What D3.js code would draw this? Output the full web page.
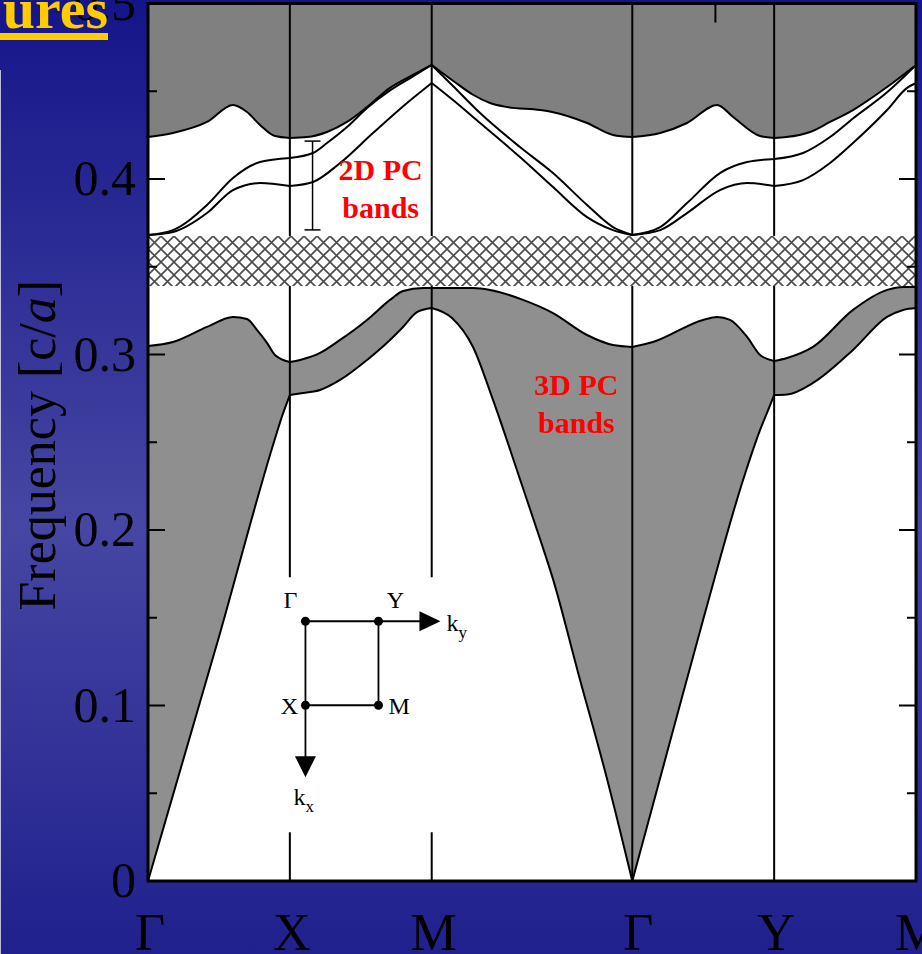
<!DOCTYPE html>
<html>
<head>
<meta charset="utf-8">
<script src="https://cdn.jsdelivr.net/npm/d3@7"></script>
<style>
  html, body { margin: 0; padding: 0; background: #1e1e8c; }
  svg { display: block; }
</style>
</head>
<body>
<svg id="chart" width="922" height="954"></svg>
<script>
"use strict";

// high symmetry points along the path, in units of 2pi/a
const symLabels = ["Γ", "X", "M", "Γ", "Y", "M"];
const symPoints = [0, 1, 2, 3.414, 4.414, 5.414];

const yTicks = [0, 0.1, 0.2, 0.3, 0.4, 0.5];
const yMinorTicks = [0.05, 0.15, 0.25, 0.35, 0.45];

// [k, frequency]
const upperEdge = [
    [0, 0.4239], [0.176, 0.4262], [0.416, 0.4325], [0.599, 0.4422], [0.698, 0.4382],
    [0.790, 0.4308], [0.895, 0.4245], [1, 0.4234], [1.121, 0.4239], [1.262, 0.4268],
    [1.403, 0.4325], [1.544, 0.4410], [1.706, 0.4519], [1.868, 0.4593], [2, 0.4650],
    [2.150, 0.4560], [2.291, 0.4480], [2.411, 0.4433], [2.531, 0.4410], [2.763, 0.4393],
    [2.848, 0.4382], [3.095, 0.4319], [3.278, 0.4251], [3.414, 0.4239], [3.611, 0.4262],
    [3.800, 0.4319], [4.012, 0.4422], [4.125, 0.4353], [4.315, 0.4245], [4.414, 0.4234],
    [4.499, 0.4239], [4.667, 0.4268], [4.808, 0.4325], [4.970, 0.4393], [5.210, 0.4524],
    [5.414, 0.4650]
];

const band2DHigh = [
    [0, 0.3681], [0.176, 0.3709], [0.416, 0.3852], [0.599, 0.4006], [0.790, 0.4097],
    [1, 0.4120], [1.163, 0.4148], [1.262, 0.4205], [1.403, 0.4296], [1.544, 0.4405],
    [1.706, 0.4505], [1.868, 0.4585], [2, 0.4650], [2.150, 0.4530], [2.341, 0.4376],
    [2.622, 0.4182], [2.855, 0.4034], [3.095, 0.3852], [3.278, 0.3726], [3.414, 0.3681],
    [3.611, 0.3726], [3.800, 0.3863], [4.032, 0.4034], [4.223, 0.4097], [4.414, 0.4114],
    [4.618, 0.4148], [4.808, 0.4239], [4.970, 0.4345], [5.210, 0.4494], [5.414, 0.4650]
];

const band2DLow = [
    [0, 0.3681], [0.176, 0.3698], [0.416, 0.3806], [0.599, 0.3937], [0.790, 0.3977],
    [1, 0.3960], [1.163, 0.3983], [1.354, 0.4091], [1.586, 0.4262], [1.826, 0.4433],
    [2, 0.4547], [2.150, 0.4450], [2.341, 0.4319], [2.622, 0.4125], [2.855, 0.3954],
    [3.095, 0.3783], [3.278, 0.3709], [3.414, 0.3681], [3.611, 0.3709], [3.800, 0.3806],
    [4.032, 0.3937], [4.223, 0.3977], [4.414, 0.3960], [4.618, 0.3994], [4.808, 0.4091],
    [4.970, 0.4205], [5.210, 0.4393], [5.351, 0.4519], [5.414, 0.4547]
];

const band3DTop = [
    [0, 0.3048], [0.176, 0.3071], [0.416, 0.3157], [0.599, 0.3214], [0.698, 0.3202],
    [0.768, 0.3140], [0.839, 0.3066], [0.895, 0.2997], [1, 0.2957], [1.072, 0.2969],
    [1.213, 0.3009], [1.354, 0.3083], [1.544, 0.3197], [1.706, 0.3311], [1.798, 0.3362],
    [1.939, 0.3379], [2, 0.3379], [2.291, 0.3379], [2.411, 0.3368], [2.644, 0.3311],
    [2.855, 0.3236], [3.095, 0.3111], [3.278, 0.3054], [3.414, 0.3043], [3.560, 0.3071],
    [3.913, 0.3197], [4.012, 0.3214], [4.103, 0.3197], [4.223, 0.3100], [4.315, 0.2997],
    [4.414, 0.2963], [4.505, 0.2980], [4.688, 0.3043], [4.970, 0.3254], [5.210, 0.3368],
    [5.323, 0.3385], [5.414, 0.3385]
];

const lowestBand = [
    [0, 0], [0.5, 0.139], [0.895, 0.252], [0.95, 0.266], [1, 0.2769],
    [1.093, 0.2781], [1.213, 0.2798], [1.354, 0.2855], [1.544, 0.2969], [1.706, 0.3083],
    [1.798, 0.3157], [1.896, 0.3242], [2, 0.3265], [2.143, 0.3208], [2.291, 0.3043],
    [2.432, 0.2741], [2.622, 0.2290], [2.763, 0.1950], [2.855, 0.1720], [3.031, 0.1190],
    [3.243, 0.0560], [3.414, 0], [3.702, 0.0860], [3.913, 0.1487], [4.195, 0.2285],
    [4.315, 0.2570], [4.380, 0.2700], [4.414, 0.2769], [4.505, 0.2772], [4.688, 0.2838],
    [4.970, 0.3026], [5.210, 0.3214], [5.323, 0.3254], [5.414, 0.3265]
];

const hatchBand = [0.339, 0.3675];      // cross hatched gap
const errorBar = [1.16, 0.371, 0.4216]; // k, low, high

const width = 922;
const height = 954;

const svg = d3.select("#chart");

const x = d3.scaleLinear().domain([0, 5.414]).range([148, 916]);
const y = d3.scaleLinear().domain([0, 0.5]).range([881, 3.5]);

// split a band at the symmetry points so kinks there stay sharp
function legs(data) {
    const out = [];
    for (let i = 0; i < symPoints.length - 1; i++) {
        const a = symPoints[i] - 1e-6, b = symPoints[i + 1] + 1e-6;
        out.push(data.filter(d => d[0] >= a && d[0] <= b));
    }
    return out;
}

const line = d3.line().x(d => x(d[0])).y(d => y(d[1])).curve(d3.curveMonotoneX);
const areaDown = d3.area().x(d => x(d[0])).y0(y(0)).y1(d => y(d[1])).curve(d3.curveMonotoneX);
const areaUp = d3.area().x(d => x(d[0])).y0(y(0.5)).y1(d => y(d[1])).curve(d3.curveMonotoneX);

const defs = svg.append("defs");

const grad = defs.append("linearGradient")
    .attr("id", "bg")
    .attr("x1", 0).attr("y1", 0).attr("x2", 0).attr("y2", 1);
grad.append("stop").attr("offset", "0%").attr("stop-color", "#15158a");
grad.append("stop").attr("offset", "55%").attr("stop-color", "#4646a3");
grad.append("stop").attr("offset", "100%").attr("stop-color", "#20208e");

const hatch = defs.append("pattern")
    .attr("id", "hatch")
    .attr("patternUnits", "userSpaceOnUse")
    .attr("x", x(0)).attr("y", y(hatchBand[1]))
    .attr("width", 13).attr("height", 13);
hatch.append("rect").attr("width", 13).attr("height", 13).attr("fill", "#fff");
hatch.append("path")
    .attr("d", "M0,0L13,13M13,0L0,13")
    .attr("stroke", "#4a4a4a")
    .attr("stroke-width", 1.6);

// slide background
svg.append("rect")
    .attr("width", width).attr("height", height)
    .attr("fill", "url(#bg)");
svg.append("line")
    .attr("x1", 0.5).attr("x2", 0.5).attr("y1", 70).attr("y2", height)
    .attr("stroke", "#fff").attr("stroke-opacity", 0.7);

// plot area
svg.append("rect")
    .attr("x", x(0)).attr("y", y(0.5))
    .attr("width", x(5.414) - x(0)).attr("height", y(0) - y(0.5))
    .attr("fill", "#fff");

// continuum above the 2D bands
svg.selectAll(".upfill")
    .data(legs(upperEdge))
    .enter().append("path")
    .attr("class", "upfill")
    .attr("d", areaUp)
    .attr("fill", "#808080");

// 3D PC bands: grey below the top edge, white again below the lowest band
svg.selectAll(".lowfill")
    .data(legs(band3DTop))
    .enter().append("path")
    .attr("class", "lowfill")
    .attr("d", areaDown)
    .attr("fill", "#8f8f8f");
svg.selectAll(".whitefill")
    .data(legs(lowestBand))
    .enter().append("path")
    .attr("class", "whitefill")
    .attr("d", areaDown)
    .attr("fill", "#fff");

// verticals at X, M, Gamma, Y
svg.selectAll(".sym")
    .data(symPoints.slice(1, 5))
    .enter().append("line")
    .attr("class", "sym")
    .attr("x1", d => x(d)).attr("x2", d => x(d))
    .attr("y1", y(0)).attr("y2", y(0.5))
    .attr("stroke", "#000").attr("stroke-width", 2);

svg.selectAll(".band")
    .data([upperEdge, band2DHigh, band2DLow, band3DTop, lowestBand])
    .enter().append("path")
    .attr("class", "band")
    .attr("d", d => legs(d).map(line).join(""))
    .attr("fill", "none")
    .attr("stroke", "#000")
    .attr("stroke-width", 2)
    .attr("stroke-linejoin", "round");

// hatched gap
svg.append("rect")
    .attr("x", x(0)).attr("y", y(hatchBand[1]))
    .attr("width", x(5.414) - x(0)).attr("height", y(hatchBand[0]) - y(hatchBand[1]))
    .attr("fill", "url(#hatch)");

// error bar marking the 2D bands
const eb = svg.append("g").attr("stroke", "#000").attr("stroke-width", 1.5);
eb.append("line")
    .attr("x1", x(errorBar[0])).attr("x2", x(errorBar[0]))
    .attr("y1", y(errorBar[1])).attr("y2", y(errorBar[2]));
[errorBar[1], errorBar[2]].forEach(v => {
    eb.append("line")
        .attr("x1", x(errorBar[0]) - 8).attr("x2", x(errorBar[0]) + 8)
        .attr("y1", y(v)).attr("y2", y(v));
});

// Brillouin zone inset
const gx = x(1.11);
const gy = y(0.148);
const sx = 73;
const sy = 84;
svg.append("rect")
    .attr("x", gx - 28).attr("y", gy - 44)
    .attr("width", 178).attr("height", 255)
    .attr("fill", "#fff");

const inset = svg.append("g").attr("transform", `translate(${gx},${gy})`);
inset.append("path")
    .attr("d", `M0,0L${sx},0L${sx},${sy}L0,${sy}Z`)
    .attr("fill", "none").attr("stroke", "#000").attr("stroke-width", 1.8);
inset.append("line")
    .attr("x1", sx).attr("x2", 118).attr("y1", 0).attr("y2", 0)
    .attr("stroke", "#000").attr("stroke-width", 1.8);
inset.append("path").attr("d", "M114,-10L135,0L114,10Z").attr("fill", "#000");
inset.append("line")
    .attr("x1", 0).attr("x2", 0).attr("y1", sy).attr("y2", sy + 55)
    .attr("stroke", "#000").attr("stroke-width", 1.8);
inset.append("path").attr("d", `M-10.5,${sy + 51}L10.5,${sy + 51}L0,${sy + 72}Z`).attr("fill", "#000");
inset.selectAll("circle")
    .data([[0, 0], [sx, 0], [0, sy], [sx, sy]])
    .enter().append("circle")
    .attr("cx", d => d[0]).attr("cy", d => d[1]).attr("r", 4.5)
    .attr("fill", "#000");

const serif = "'Liberation Serif', 'Times New Roman', serif";

function insetText(tx, ty, str, anchor) {
    return inset.append("text")
        .attr("x", tx).attr("y", ty)
        .attr("text-anchor", anchor)
        .attr("font-family", serif)
        .attr("font-size", 24)
        .attr("fill", "#000")
        .text(str);
}
insetText(-15, -13, "Γ", "middle");
insetText(sx + 17, -13, "Y", "middle");
insetText(-16, sy + 9, "X", "middle");
insetText(sx + 10, sy + 9, "M", "start");
const ky = insetText(141, 10, "k", "start");
ky.append("tspan").attr("font-size", 17).attr("dy", 7).text("y");
const kx = insetText(-12, sy + 100, "k", "start");
kx.append("tspan").attr("font-size", 17).attr("dy", 7).text("x");

// frame
svg.append("rect")
    .attr("x", x(0)).attr("y", y(0.5))
    .attr("width", x(5.414) - x(0)).attr("height", y(0) - y(0.5))
    .attr("fill", "none").attr("stroke", "#000").attr("stroke-width", 3);

// inward ticks on both sides
const tickG = svg.append("g").attr("stroke", "#000").attr("stroke-width", 2);
yTicks.slice(1, 5).forEach(v => {
    tickG.append("line").attr("x1", x(0)).attr("x2", x(0) + 17).attr("y1", y(v)).attr("y2", y(v));
    tickG.append("line").attr("x1", x(5.414)).attr("x2", x(5.414) - 17).attr("y1", y(v)).attr("y2", y(v));
});
yMinorTicks.forEach(v => {
    tickG.append("line").attr("x1", x(0)).attr("x2", x(0) + 9).attr("y1", y(v)).attr("y2", y(v));
    tickG.append("line").attr("x1", x(5.414)).attr("x2", x(5.414) - 9).attr("y1", y(v)).attr("y2", y(v));
});
tickG.append("line").attr("x1", x(4)).attr("x2", x(4)).attr("y1", y(0.5)).attr("y2", y(0.5) + 19);

// y tick labels
svg.selectAll(".ylab")
    .data(yTicks)
    .enter().append("text")
    .attr("class", "ylab")
    .attr("x", 136)
    .attr("y", d => y(d) + 16)
    .attr("text-anchor", "end")
    .attr("font-family", serif)
    .attr("font-size", 50)
    .attr("fill", "#000")
    .text(d => d === 0 ? "0" : d.toFixed(1));

// x labels
svg.selectAll(".xlab")
    .data(symPoints)
    .enter().append("text")
    .attr("class", "xlab")
    .attr("x", (d, i) => x(d) + (i === 3 ? 6 : 2))
    .attr("y", 950)
    .attr("text-anchor", "middle")
    .attr("font-family", serif)
    .attr("font-size", 52)
    .attr("fill", "#000")
    .text((d, i) => symLabels[i]);

// y axis title
const yt = svg.append("text")
    .attr("transform", `translate(55,${y(0.25) + 3}) rotate(-90)`)
    .attr("text-anchor", "middle")
    .attr("font-family", serif)
    .attr("font-size", 52)
    .attr("fill", "#000");
yt.append("tspan").text("Frequency [c/");
yt.append("tspan").attr("font-style", "italic").text("a");
yt.append("tspan").text("]");

// band annotations
function redLabel(k, v, lines) {
    const t = svg.append("text")
        .attr("text-anchor", "middle")
        .attr("font-family", serif)
        .attr("font-weight", "bold")
        .attr("font-size", 30)
        .attr("fill", "#ff0000");
    lines.forEach((s, i) => {
        t.append("tspan").attr("x", x(k)).attr("y", y(v) + i * 38).text(s);
    });
}
redLabel(1.64, 0.3994, ["2D PC", "bands"]);
redLabel(3.02, 0.2769, ["3D PC", "bands"]);

// slide title fragment in the corner
svg.append("text")
    .attr("x", 108).attr("y", 28)
    .attr("text-anchor", "end")
    .attr("font-family", serif)
    .attr("font-weight", "bold")
    .attr("font-size", 58)
    .attr("fill", "#ffcc00")
    .text("ures");
svg.append("rect")
    .attr("x", 0).attr("y", 33).attr("width", 108).attr("height", 7)
    .attr("fill", "#ffcc00");
</script>
</body>
</html>
